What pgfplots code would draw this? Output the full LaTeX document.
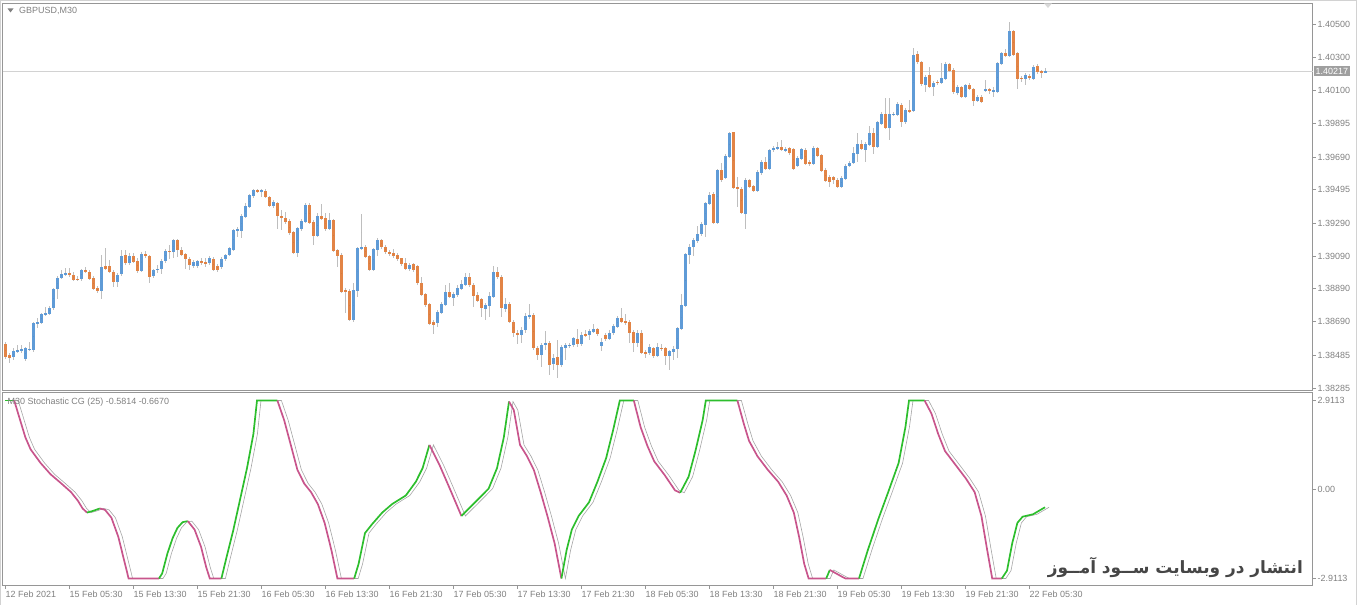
\documentclass[border=0pt]{standalone}
\usepackage{fontspec}
\setmainfont{Liberation Sans}
\newfontfamily\arabicfont[Script=Arabic]{DejaVu Sans}
\TeXXeTstate=1
\usepackage{pgfplots}
\usepackage{pgfplotstable}
\pgfplotsset{compat=1.18}

\definecolor{bull}{RGB}{95,155,215}
\definecolor{bear}{RGB}{226,132,70}
\definecolor{wick}{RGB}{190,190,190}
\definecolor{frame}{RGB}{150,150,150}
\definecolor{lbl}{RGB}{128,128,128}
\definecolor{cgup}{RGB}{45,190,45}
\definecolor{cgdn}{RGB}{200,85,140}
\definecolor{sig}{RGB}{165,165,165}
\definecolor{wmark}{RGB}{70,70,70}

% GBPUSD M30 candles: index, open, high, low, close, d (1 = up)
\pgfplotstableread{
i o h l c d
0 1.38554 1.38569 1.38461 1.38477 0
1 1.38487 1.38497 1.38441 1.38471 0
2 1.38473 1.38528 1.38457 1.38512 1
3 1.38506 1.38548 1.38498 1.38518 1
4 1.38512 1.38548 1.38502 1.38524 1
5 1.38461 1.38538 1.38453 1.38530 1
6 1.38518 1.38569 1.38514 1.38526 1
7 1.38518 1.38690 1.38508 1.38684 1
8 1.38680 1.38711 1.38650 1.38688 1
9 1.38684 1.38745 1.38676 1.38737 1
10 1.38731 1.38782 1.38725 1.38741 1
11 1.38741 1.38786 1.38733 1.38776 1
12 1.38772 1.38899 1.38765 1.38891 1
13 1.38887 1.38968 1.38832 1.38958 1
14 1.38958 1.39005 1.38952 1.38981 1
15 1.38977 1.39015 1.38968 1.38989 1
16 1.38985 1.39015 1.38964 1.38975 0
17 1.38975 1.38995 1.38940 1.38948 0
18 1.38952 1.38968 1.38936 1.38944 0
19 1.38948 1.39013 1.38940 1.39005 1
20 1.39005 1.39021 1.38985 1.38995 0
21 1.38995 1.39005 1.38944 1.38952 0
22 1.38958 1.38968 1.38883 1.38891 0
23 1.38898 1.38908 1.38863 1.38879 0
24 1.38879 1.39096 1.38832 1.39025 1
25 1.39029 1.39137 1.39005 1.39013 0
26 1.39027 1.39066 1.38985 1.38995 0
27 1.38995 1.39005 1.38904 1.38934 0
28 1.38934 1.38985 1.38904 1.38975 1
29 1.38979 1.39127 1.38968 1.39090 1
30 1.39096 1.39127 1.39035 1.39046 0
31 1.39046 1.39107 1.39035 1.39090 1
32 1.39090 1.39107 1.39046 1.39056 0
33 1.39060 1.39076 1.38985 1.39001 0
34 1.39001 1.39117 1.38995 1.39102 1
35 1.39102 1.39123 1.39076 1.39090 0
36 1.39090 1.39096 1.38928 1.38964 0
37 1.38968 1.39015 1.38960 1.39005 1
38 1.39003 1.39035 1.38985 1.39013 1
39 1.39009 1.39076 1.38981 1.39062 1
40 1.39062 1.39131 1.39050 1.39123 1
41 1.39123 1.39157 1.39074 1.39115 0
42 1.39115 1.39192 1.39076 1.39186 1
43 1.39186 1.39192 1.39082 1.39127 0
44 1.39131 1.39143 1.39090 1.39100 0
45 1.39102 1.39111 1.39009 1.39072 0
46 1.39074 1.39082 1.39005 1.39035 0
47 1.39029 1.39066 1.39015 1.39054 1
48 1.39031 1.39070 1.39021 1.39060 1
49 1.39062 1.39076 1.39035 1.39050 0
50 1.39054 1.39076 1.39025 1.39041 0
51 1.39046 1.39090 1.39035 1.39078 1
52 1.39074 1.39086 1.38997 1.39003 0
53 1.39033 1.39042 1.38997 1.39003 0
54 1.39021 1.39082 1.39013 1.39072 1
55 1.39070 1.39102 1.39062 1.39094 1
56 1.39096 1.39147 1.39090 1.39137 1
57 1.39127 1.39257 1.39119 1.39249 1
58 1.39245 1.39269 1.39208 1.39253 1
59 1.39245 1.39346 1.39198 1.39334 1
60 1.39330 1.39411 1.39320 1.39395 1
61 1.39391 1.39468 1.39381 1.39460 1
62 1.39456 1.39500 1.39441 1.39492 1
63 1.39492 1.39500 1.39472 1.39482 0
64 1.39484 1.39500 1.39452 1.39492 1
65 1.39488 1.39496 1.39441 1.39448 0
66 1.39448 1.39456 1.39387 1.39395 0
67 1.39395 1.39431 1.39381 1.39419 1
68 1.39415 1.39421 1.39253 1.39334 0
69 1.39334 1.39370 1.39249 1.39324 0
70 1.39324 1.39360 1.39285 1.39297 0
71 1.39303 1.39314 1.39218 1.39228 0
72 1.39236 1.39245 1.39102 1.39111 0
73 1.39111 1.39269 1.39082 1.39259 1
74 1.39255 1.39314 1.39245 1.39303 1
75 1.39299 1.39415 1.39289 1.39401 1
76 1.39401 1.39411 1.39285 1.39293 0
77 1.39299 1.39310 1.39157 1.39214 0
78 1.39214 1.39350 1.39208 1.39334 1
79 1.39334 1.39405 1.39310 1.39318 0
80 1.39324 1.39350 1.39245 1.39255 0
81 1.39255 1.39350 1.39249 1.39310 1
82 1.39310 1.39314 1.39115 1.39123 0
83 1.39127 1.39135 1.39025 1.39092 0
84 1.39096 1.39107 1.38867 1.38873 0
85 1.38883 1.38893 1.38741 1.38873 0
86 1.38879 1.38887 1.38694 1.38701 0
87 1.38701 1.38924 1.38690 1.38883 1
88 1.38879 1.39147 1.38843 1.39139 1
89 1.39135 1.39344 1.39127 1.39147 1
90 1.39147 1.39157 1.39076 1.39086 0
91 1.39090 1.39098 1.38999 1.39005 0
92 1.39005 1.39141 1.38999 1.39133 1
93 1.39127 1.39198 1.39090 1.39188 1
94 1.39188 1.39196 1.39135 1.39143 0
95 1.39147 1.39157 1.39102 1.39113 0
96 1.39117 1.39131 1.39094 1.39104 0
97 1.39109 1.39137 1.39082 1.39092 0
98 1.39096 1.39107 1.39062 1.39072 0
99 1.39078 1.39082 1.39033 1.39042 0
100 1.39046 1.39076 1.39005 1.39011 0
101 1.39009 1.39050 1.39001 1.39035 1
102 1.39040 1.39046 1.38995 1.39005 0
103 1.39029 1.39035 1.38914 1.38924 0
104 1.38924 1.38964 1.38847 1.38853 0
105 1.38859 1.38867 1.38782 1.38792 0
106 1.38798 1.38806 1.38668 1.38676 0
107 1.38688 1.38701 1.38615 1.38670 0
108 1.38680 1.38761 1.38660 1.38751 1
109 1.38745 1.38812 1.38737 1.38798 1
110 1.38794 1.38914 1.38786 1.38873 1
111 1.38873 1.38924 1.38834 1.38843 0
112 1.38834 1.38873 1.38782 1.38859 1
113 1.38853 1.38914 1.38843 1.38893 1
114 1.38889 1.38944 1.38883 1.38920 1
115 1.38914 1.38989 1.38908 1.38964 1
116 1.38964 1.38985 1.38904 1.38914 0
117 1.38914 1.38924 1.38782 1.38847 0
118 1.38853 1.38873 1.38810 1.38818 0
119 1.38826 1.38832 1.38721 1.38772 0
120 1.38770 1.38802 1.38701 1.38792 1
121 1.38786 1.38873 1.38721 1.38847 1
122 1.38843 1.39029 1.38837 1.38995 1
123 1.38995 1.39025 1.38952 1.38960 0
124 1.38964 1.38973 1.38721 1.38772 0
125 1.38771 1.38832 1.38751 1.38801 1
126 1.38801 1.38812 1.38680 1.38690 0
127 1.38690 1.38700 1.38599 1.38619 0
128 1.38623 1.38639 1.38554 1.38611 0
129 1.38609 1.38659 1.38558 1.38643 1
130 1.38639 1.38741 1.38619 1.38724 1
131 1.38720 1.38797 1.38704 1.38730 1
132 1.38730 1.38741 1.38517 1.38531 0
133 1.38531 1.38542 1.38456 1.38487 0
134 1.38487 1.38562 1.38416 1.38548 1
135 1.38550 1.38635 1.38517 1.38562 1
136 1.38562 1.38574 1.38365 1.38430 0
137 1.38430 1.38497 1.38395 1.38467 1
138 1.38473 1.38578 1.38345 1.38426 0
139 1.38426 1.38548 1.38416 1.38534 1
140 1.38531 1.38562 1.38460 1.38548 1
141 1.38542 1.38562 1.38530 1.38550 1
142 1.38546 1.38599 1.38538 1.38588 1
143 1.38584 1.38643 1.38538 1.38554 0
144 1.38554 1.38629 1.38546 1.38609 1
145 1.38615 1.38639 1.38599 1.38605 0
146 1.38609 1.38643 1.38578 1.38633 1
147 1.38627 1.38676 1.38619 1.38649 1
148 1.38645 1.38655 1.38603 1.38615 0
149 1.38542 1.38594 1.38513 1.38568 1
150 1.38609 1.38619 1.38574 1.38584 0
151 1.38584 1.38639 1.38578 1.38623 1
152 1.38619 1.38680 1.38611 1.38663 1
153 1.38659 1.38724 1.38651 1.38712 1
154 1.38712 1.38771 1.38680 1.38688 0
155 1.38692 1.38737 1.38670 1.38680 0
156 1.38688 1.38700 1.38562 1.38623 0
157 1.38627 1.38639 1.38507 1.38562 0
158 1.38562 1.38639 1.38538 1.38623 1
159 1.38623 1.38643 1.38493 1.38501 0
160 1.38505 1.38517 1.38467 1.38497 0
161 1.38497 1.38554 1.38487 1.38534 1
162 1.38531 1.38538 1.38473 1.38481 0
163 1.38481 1.38558 1.38473 1.38534 1
164 1.38534 1.38554 1.38513 1.38525 0
165 1.38529 1.38538 1.38426 1.38481 0
166 1.38481 1.38521 1.38395 1.38511 1
167 1.38507 1.38542 1.38456 1.38525 1
168 1.38523 1.38659 1.38467 1.38651 1
169 1.38647 1.38862 1.38639 1.38791 1
170 1.38785 1.39110 1.38777 1.39102 1
171 1.39096 1.39163 1.39041 1.39147 1
172 1.39143 1.39197 1.39090 1.39187 1
173 1.39183 1.39272 1.39171 1.39228 1
174 1.39224 1.39299 1.39212 1.39283 1
175 1.39279 1.39421 1.39207 1.39415 1
176 1.39406 1.39482 1.39398 1.39461 1
177 1.39467 1.39482 1.39285 1.39293 0
178 1.39293 1.39624 1.39285 1.39614 1
179 1.39618 1.39658 1.39544 1.39553 0
180 1.39563 1.39715 1.39557 1.39699 1
181 1.39695 1.39847 1.39687 1.39841 1
182 1.39843 1.39847 1.39496 1.39506 0
183 1.39512 1.39573 1.39390 1.39500 0
184 1.39502 1.39512 1.39346 1.39354 0
185 1.39350 1.39563 1.39252 1.39553 1
186 1.39553 1.39563 1.39504 1.39512 0
187 1.39516 1.39524 1.39480 1.39488 0
188 1.39488 1.39614 1.39482 1.39599 1
189 1.39593 1.39674 1.39585 1.39662 1
190 1.39662 1.39695 1.39614 1.39622 0
191 1.39622 1.39745 1.39614 1.39735 1
192 1.39734 1.39762 1.39726 1.39750 1
193 1.39744 1.39787 1.39736 1.39754 1
194 1.39754 1.39797 1.39730 1.39736 0
195 1.39732 1.39756 1.39722 1.39742 1
196 1.39748 1.39756 1.39705 1.39716 0
197 1.39742 1.39750 1.39612 1.39620 0
198 1.39640 1.39701 1.39632 1.39685 1
199 1.39681 1.39750 1.39673 1.39742 1
200 1.39740 1.39750 1.39644 1.39651 0
201 1.39661 1.39673 1.39640 1.39651 0
202 1.39651 1.39758 1.39644 1.39750 1
203 1.39750 1.39756 1.39693 1.39701 0
204 1.39705 1.39714 1.39600 1.39608 0
205 1.39614 1.39624 1.39539 1.39547 0
206 1.39571 1.39584 1.39513 1.39543 0
207 1.39571 1.39580 1.39527 1.39555 0
208 1.39555 1.39567 1.39502 1.39511 0
209 1.39511 1.39575 1.39506 1.39565 1
210 1.39561 1.39649 1.39555 1.39640 1
211 1.39638 1.39669 1.39632 1.39659 1
212 1.39655 1.39756 1.39649 1.39718 1
213 1.39714 1.39837 1.39665 1.39774 1
214 1.39774 1.39797 1.39734 1.39742 0
215 1.39738 1.39787 1.39665 1.39774 1
216 1.39766 1.39884 1.39758 1.39841 1
217 1.39841 1.39868 1.39710 1.39754 0
218 1.39754 1.39912 1.39746 1.39904 1
219 1.39896 1.39969 1.39888 1.39957 1
220 1.39953 1.40055 1.39864 1.39872 0
221 1.39872 1.40050 1.39797 1.39957 1
222 1.39949 1.39969 1.39941 1.39957 1
223 1.39949 1.40026 1.39941 1.40014 1
224 1.40010 1.40020 1.39876 1.39904 0
225 1.39904 1.39990 1.39896 1.39979 1
226 1.39979 1.40040 1.39961 1.39969 0
227 1.39973 1.40355 1.39969 1.40318 1
228 1.40318 1.40339 1.40262 1.40270 0
229 1.40270 1.40278 1.40128 1.40136 0
230 1.40132 1.40193 1.40091 1.40182 1
231 1.40193 1.40243 1.40115 1.40122 0
232 1.40122 1.40156 1.40067 1.40146 1
233 1.40152 1.40162 1.40132 1.40146 0
234 1.40146 1.40264 1.40140 1.40172 1
235 1.40168 1.40270 1.40160 1.40258 1
236 1.40258 1.40266 1.40213 1.40219 0
237 1.40223 1.40233 1.40079 1.40087 0
238 1.40085 1.40132 1.40071 1.40120 1
239 1.40120 1.40128 1.40055 1.40061 0
240 1.40061 1.40142 1.40055 1.40132 1
241 1.40132 1.40142 1.40099 1.40107 0
242 1.40107 1.40115 1.40006 1.40036 0
243 1.40034 1.40071 1.40026 1.40061 1
244 1.40061 1.40071 1.40022 1.40030 0
245 1.40095 1.40162 1.40087 1.40107 1
246 1.40107 1.40115 1.40075 1.40099 0
247 1.40091 1.40122 1.40061 1.40099 1
248 1.40091 1.40274 1.40083 1.40264 1
249 1.40260 1.40335 1.40254 1.40325 1
250 1.40327 1.40355 1.40302 1.40310 0
251 1.40310 1.40517 1.40302 1.40461 1
252 1.40461 1.40469 1.40310 1.40318 0
253 1.40327 1.40335 1.40107 1.40168 0
254 1.40176 1.40189 1.40152 1.40168 0
255 1.40168 1.40203 1.40132 1.40193 1
256 1.40189 1.40197 1.40164 1.40172 0
257 1.40168 1.40254 1.40160 1.40241 1
258 1.40245 1.40258 1.40201 1.40209 0
259 1.40217 1.40225 1.40172 1.40209 0
260 1.40211 1.40237 1.40205 1.40217 1
}\candles

% Stochastic CG (25), main line
\pgfplotstableread{
i v
0 2.911
2.3 2.911
3.8 2.263
5.1 1.704
6.4 1.313
8.9 0.866
11.4 0.497
13.9 0.218
16.5 -0.084
18.2 -0.363
19.4 -0.620
20.5 -0.755
22.0 -0.700
23.7 -0.620
25.0 -0.665
26.6 -0.922
28.3 -1.537
30.0 -2.431
30.9 -2.911
38.5 -2.911
39.3 -2.744
40.6 -2.095
41.9 -1.593
43.1 -1.258
44.4 -1.068
45.7 -1.034
47.4 -1.313
49.0 -1.872
50.3 -2.543
51.2 -2.911
54.1 -2.911
55.4 -2.207
57.1 -1.313
58.8 -0.307
60.5 0.699
62.1 1.816
63.0 2.911
68.1 2.911
69.8 2.263
71.4 1.481
73.1 0.643
74.8 0.195
76.5 -0.084
78.2 -0.475
79.9 -1.090
81.6 -1.984
83.1 -2.911
87.3 -2.911
88.4 -2.431
90.0 -1.425
91.7 -1.146
94.3 -0.755
96.8 -0.475
100.2 -0.196
102.7 0.252
104.4 0.699
106.1 1.458
108.6 0.810
111.2 0.028
114.1 -0.866
117.1 -0.475
120.9 0.028
123.0 0.699
124.7 1.704
126.0 2.878
127.2 2.598
128.75 1.458
130.5 1.090
132.2 0.643
133.9 -0.084
135.6 -0.866
137.4 -1.760
139.1 -2.911
140.4 -1.984
141.7 -1.313
143.4 -0.866
146.0 -0.419
148.1 0.252
150.3 1.034
152.0 1.928
153.7 2.911
157.2 2.911
158.9 2.040
160.6 1.425
162.3 0.922
164.9 0.475
167.5 -0.028
168.8 -0.106
170.9 0.419
172.6 1.257
174.4 2.263
175.2 2.911
183.1 2.911
184.7 2.151
186.0 1.593
188.1 1.090
190.7 0.643
193.3 0.252
195.4 -0.196
197.2 -0.755
198.5 -1.537
199.8 -2.431
200.9 -2.911
205.3 -2.911
206.2 -2.632
209.6 -2.878
210.1 -2.911
213.5 -2.911
215.7 -1.984
218.3 -0.978
220.8 -0.084
223.4 0.866
225.1 2.040
226.0 2.911
229.9 2.911
231.6 2.486
233.3 1.816
235.0 1.257
237.6 0.810
240.2 0.363
242.4 -0.084
244.1 -0.866
245.4 -1.872
246.8 -2.911
249.2 -2.911
250.5 -2.654
251.8 -1.760
253.1 -1.090
254.4 -0.889
257.0 -0.810
260.0 -0.581
}\stoch

\pgfplotsset{
  mt4/.style={
    scale only axis, anchor=north west, width=1310bp, clip=false,
    xmin=-0.625, xmax=326.875,
    axis line style={frame, line width=0.9bp},
    tick align=outside, major tick length=3bp,
    tick style={frame, line width=0.8bp},
    ticklabel style={font=\fontsize{9}{10}\selectfont, text=lbl},
    ytick pos=right,
    yticklabel style={anchor=west, inner sep=1bp, xshift=1bp},
  },
  seg/.style={line width=1.7bp, forget plot},
  % error bars only: no visible plot marks
  bars/.style={only marks, mark=*, mark size=0pt, mark options={draw=none, fill=none}, forget plot},
}

\begin{document}
\begin{tikzpicture}
\useasboundingbox (0,0) rectangle (1360bp,605bp);

% price panel
\begin{axis}[mt4, at={(2.5bp,601.7bp)}, height=387bp,
  ymin=1.38272, ymax=1.40629, xtick=\empty,
  ytick={1.38285,1.38485,1.38690,1.38890,1.39090,1.39290,1.39495,1.39690,1.39895,1.40100,1.40300,1.40500},
  yticklabels={1.38285,1.38485,1.38690,1.38890,1.39090,1.39290,1.39495,1.39690,1.39895,1.40100,1.40300,1.40500},
]
\addplot[gray!35, line width=0.8bp, forget plot] coordinates {(-0.625,1.40217) (326.875,1.40217)};
% wicks
\addplot[bars,
  error bars/.cd, y dir=both, y explicit, error mark=none,
  error bar style={line width=1bp, wick}]
  table[x=i, y expr={(\thisrow{h}+\thisrow{l})/2}, y error expr={(\thisrow{h}-\thisrow{l})/2}]{\candles};
% bodies, up (d = 1); a down candle gets a zero-length bar
\addplot[bars,
  error bars/.cd, y dir=both, y explicit, error mark=none,
  error bar style={line width=3bp, bull}]
  table[x=i, y expr={(\thisrow{o}+\thisrow{c})/2},
        y error expr={\thisrow{d}*max(abs(\thisrow{c}-\thisrow{o})/2,0.00003)}]{\candles};
% bodies, down (d = 0)
\addplot[bars,
  error bars/.cd, y dir=both, y explicit, error mark=none,
  error bar style={line width=3bp, bear}]
  table[x=i, y expr={(\thisrow{o}+\thisrow{c})/2},
        y error expr={(1-\thisrow{d})*max(abs(\thisrow{c}-\thisrow{o})/2,0.00003)}]{\candles};
\node[anchor=west, fill=gray!75, text=white, inner sep=1.5bp, xshift=1.5bp,
  font=\fontsize{9}{10}\selectfont] at (axis cs:326.875,1.40217) {1.40217};
\end{axis}

% oscillator panel
\begin{axis}[mt4, at={(2.5bp,212.7bp)}, height=193.4bp,
  ymin=-3.147, ymax=3.18,
  ytick={-2.9113,0,2.9113}, yticklabels={-2.9113,0.00,2.9113},
  xtick pos=bottom, xtick={0,16,...,256},
  xticklabels={12 Feb 2021,15 Feb 05:30,15 Feb 13:30,15 Feb 21:30,16 Feb 05:30,16 Feb 13:30,16 Feb 21:30,17 Feb 05:30,17 Feb 13:30,17 Feb 21:30,18 Feb 05:30,18 Feb 13:30,18 Feb 21:30,19 Feb 05:30,19 Feb 13:30,19 Feb 21:30,22 Feb 05:30},
  xticklabel style={anchor=north west, inner sep=1bp, xshift=-0.5bp, yshift=-1bp},
]
\addplot[sig, line width=0.6bp, forget plot] table[x expr={\thisrow{i}+1}, y=v]{\stoch};
\addplot[seg, cgup, restrict x to domain=-0.1:2.31] table[x=i, y=v]{\stoch};
\addplot[seg, cgdn, restrict x to domain=2.29:20.51] table[x=i, y=v]{\stoch};
\addplot[seg, cgup, restrict x to domain=20.49:23.71] table[x=i, y=v]{\stoch};
\addplot[seg, cgdn, restrict x to domain=23.69:38.51] table[x=i, y=v]{\stoch};
\addplot[seg, cgup, restrict x to domain=38.49:45.71] table[x=i, y=v]{\stoch};
\addplot[seg, cgdn, restrict x to domain=45.69:54.11] table[x=i, y=v]{\stoch};
\addplot[seg, cgup, restrict x to domain=54.09:68.11] table[x=i, y=v]{\stoch};
\addplot[seg, cgdn, restrict x to domain=68.09:87.31] table[x=i, y=v]{\stoch};
\addplot[seg, cgup, restrict x to domain=87.29:106.11] table[x=i, y=v]{\stoch};
\addplot[seg, cgdn, restrict x to domain=106.09:114.11] table[x=i, y=v]{\stoch};
\addplot[seg, cgup, restrict x to domain=114.09:126.01] table[x=i, y=v]{\stoch};
\addplot[seg, cgdn, restrict x to domain=125.99:139.11] table[x=i, y=v]{\stoch};
\addplot[seg, cgup, restrict x to domain=139.09:157.21] table[x=i, y=v]{\stoch};
\addplot[seg, cgdn, restrict x to domain=157.19:168.81] table[x=i, y=v]{\stoch};
\addplot[seg, cgup, restrict x to domain=168.79:183.11] table[x=i, y=v]{\stoch};
\addplot[seg, cgdn, restrict x to domain=183.09:205.31] table[x=i, y=v]{\stoch};
\addplot[seg, cgup, restrict x to domain=205.29:206.21] table[x=i, y=v]{\stoch};
\addplot[seg, cgdn, restrict x to domain=206.19:213.51] table[x=i, y=v]{\stoch};
\addplot[seg, cgup, restrict x to domain=213.49:229.91] table[x=i, y=v]{\stoch};
\addplot[seg, cgdn, restrict x to domain=229.89:249.21] table[x=i, y=v]{\stoch};
\addplot[seg, cgup, restrict x to domain=249.19:260.1] table[x=i, y=v]{\stoch};
\end{axis}

% panel captions and chart furniture
\draw[gray!35, line width=0.8bp] (0.5bp,0) -- (0.5bp,604.5bp) -- (1356.5bp,604.5bp) -- (1356.5bp,0);
\fill[lbl] (7.5bp,596.5bp) -- (13.5bp,596.5bp) -- (10.5bp,592.5bp) -- cycle;
\node[anchor=west, inner sep=0pt, text=lbl, font=\fontsize{9}{10}\selectfont] at (19bp,594bp) {GBPUSD,M30};
\fill[gray!30] (1044bp,601.7bp) -- (1052bp,601.7bp) -- (1048bp,597bp) -- cycle;
\node[anchor=west, inner sep=0pt, text=lbl, font=\fontsize{9}{10}\selectfont] at (7.5bp,203bp) {M30 Stochastic CG (25) -0.5814 -0.6670};
\node[anchor=east, inner sep=0pt, text=wmark, font=\arabicfont\bfseries\fontsize{17}{20}\selectfont] at (1303bp,37.5bp) {\beginR انتشار در وبسایت ســود آمــوز\endR};
\end{tikzpicture}
\end{document}
